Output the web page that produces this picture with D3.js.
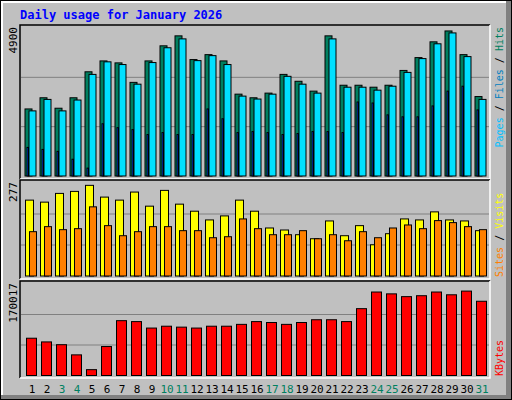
<!DOCTYPE html>
<html><head><meta charset="utf-8">
<script src="https://cdn.jsdelivr.net/npm/d3@7"></script>
<style>body{margin:0;background:#fff}svg text{font-family:"DejaVu Sans Mono",monospace}</style>
</head><body><svg id="c" width="512" height="400"></svg>
<script>
const days = d3.range(1, 32);
const weekend = [3, 4, 10, 11, 17, 18, 24, 25, 31];
const hits = [2220,2590,2244,2590,3450,3810,3745,3100,3810,4310,4640,3855,4018,3810,2710,2590,2744,3364,3136,2810,4640,3005,3005,2940,3005,3495,3920,4442,4802,4018,2630];
const files = [2156,2536,2156,2515,3364,3780,3690,3040,3756,4246,4540,3820,3985,3690,2645,2548,2710,3300,3040,2744,4540,2940,2940,2842,2973,3430,3887,4377,4737,3953,2536];
const pages = [947,880,816,555,261,1730,1600,1535,1372,1437,1372,1372,2220,1895,1437,1470,1437,1372,1405,1470,1470,1437,2450,2417,2025,1960,1960,2320,2810,2973,2188];
const visits = [226,220,246,252,270,235,226,250,208,255,214,193,167,179,226,193,143,137,123,111,164,120,150,93,126,170,167,191,167,164,135];
const sites = [132,147,138,141,206,150,120,132,147,147,135,135,114,117,170,141,123,123,135,111,123,105,132,114,143,152,141,165,159,147,138];
const kbytes = [69260,62392,57240,38350,10876,53806,101887,100170,88150,91580,89866,88150,91580,91580,95020,100170,98460,95020,98460,103600,103600,100170,124210,155120,151690,146540,148260,155120,149970,156840,137950];
const maxTicks = ["4900", "277", "170017"];

const svg = d3.select("#c");
// frame
svg.append("rect").attr("x", 0).attr("y", 0).attr("width", 512).attr("height", 400).attr("fill", "#000");
svg.append("rect").attr("x", 1).attr("y", 1).attr("width", 510).attr("height", 398).attr("fill", "#808080");
svg.append("rect").attr("x", 1).attr("y", 1).attr("width", 505).attr("height", 394).attr("fill", "#fff");
svg.append("rect").attr("x", 3).attr("y", 3).attr("width", 503).attr("height", 392).attr("fill", "#c0c0c0");

svg.append("text").attr("x", 20).attr("y", 19).attr("fill", "#0000ff")
  .attr("font-size", 12).attr("font-weight", "bold").text("Daily usage for January 2026");

const x = d3.scaleLinear().domain([1, 31]).range([25, 475]);

function panel(top, bottom, base, maxv, label, legend, topAlign) {
  svg.append("rect").attr("x", 20).attr("y", top).attr("width", 470).attr("height", bottom - top)
    .attr("fill", "#c0c0c0");
  const y = d3.scaleLinear().domain([0, maxv]).range([base, base - (base - top - 3)]);
  [1 / 3, 2 / 3].forEach(f => svg.append("line").attr("x1", 21).attr("x2", 489)
    .attr("y1", y(maxv * f)).attr("y2", y(maxv * f)).attr("stroke", "#808080"));
  svg.append("path").attr("d", `M20,${bottom}V${top}H490`).attr("stroke", "#000").attr("fill", "none").attr("stroke-width", 1.5);
  svg.append("path").attr("d", `M490,${top}V${bottom}H20`).attr("stroke", "#fff").attr("fill", "none").attr("stroke-width", 1.5);
  svg.append("text").attr("transform", `translate(17,${top + 2}) rotate(-90)`)
    .attr("text-anchor", "end").attr("font-size", 11).attr("fill", "#000").text(label);
  const lg = svg.append("text")
    .attr("transform", topAlign ? `translate(503,${top + 2}) rotate(-90)` : `translate(503,${bottom - 2}) rotate(-90)`)
    .attr("text-anchor", topAlign ? "end" : "start")
    .attr("font-size", 10);
  legend.forEach((l, i) => {
    if (i) lg.append("tspan").attr("fill", "#000").text(" / ");
    lg.append("tspan").attr("fill", l[1]).text(l[0]);
  });
  return y;
}

function bars(data, y, off, w, color) {
  svg.append("g").selectAll("rect").data(data).join("rect")
    .attr("x", (d, i) => x(days[i]) + off).attr("width", w)
    .attr("y", d => y(d)).attr("height", d => y(0) - y(d))
    .attr("fill", color).attr("stroke", "#000").attr("stroke-width", 1);
}

const y1 = panel(25, 179, 176, 4900, maxTicks[0], [["Pages", "#00c0ff"], ["Files", "#0080c0"], ["Hits", "#008060"]], true);
bars(hits, y1, 0, 7, "#008060");
bars(files, y1, 4, 7, "#00e0ff");
bars(pages, y1, 2, 1.5, "#0040ff");

const y2 = panel(180, 279, 276, 277, maxTicks[1], [["Sites", "#ff8000"], ["Visits", "#ffff00"]]);
bars(visits, y2, 0.5, 8, "#ffff00");
bars(sites, y2, 4.5, 7, "#ff8000");

const y3 = panel(281, 378, 375.5, 170017, maxTicks[2], [["KBytes", "#ff0000"]]);
bars(kbytes, y3, 1.5, 10, "#ff0000");

svg.append("g").selectAll("text").data(days).join("text")
  .attr("x", d => x(d) + 7).attr("y", 393).attr("text-anchor", "middle").attr("font-size", 11)
  .attr("fill", d => weekend.includes(d) ? "#008060" : "#000").text(d => d);
</script></body></html>
